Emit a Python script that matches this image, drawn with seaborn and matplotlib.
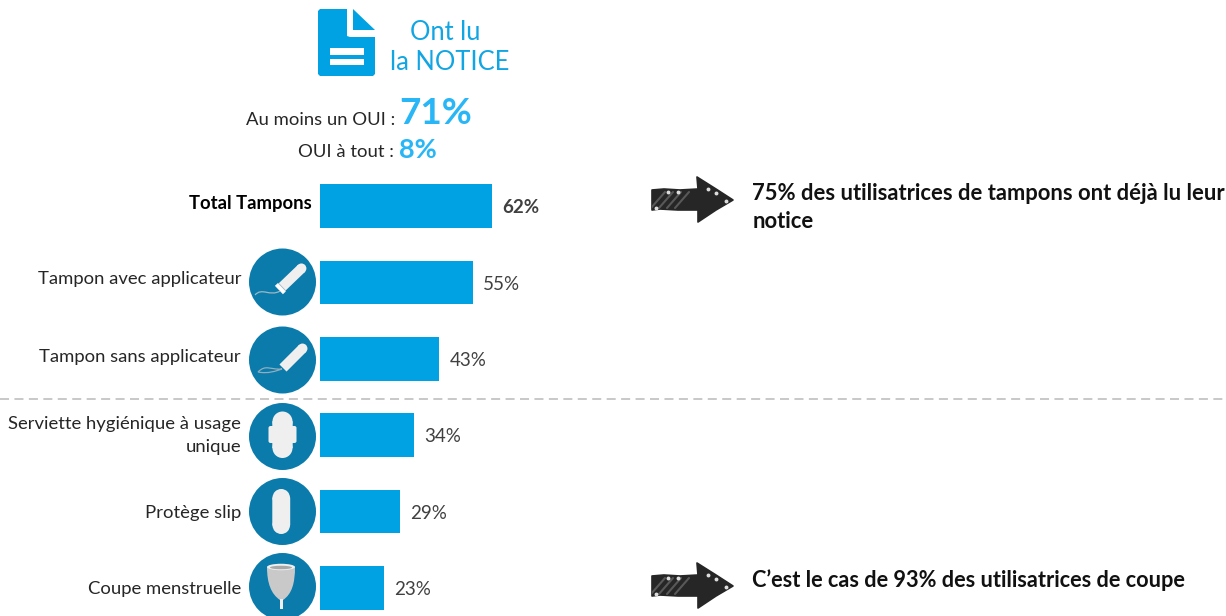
import numpy as np
import pandas as pd
import matplotlib
matplotlib.use("Agg")
import matplotlib.pyplot as plt
import seaborn as sns
from matplotlib.patches import Circle, Polygon, FancyBboxPatch, PathPatch, Rectangle, Ellipse
from matplotlib.path import Path
from matplotlib.transforms import Affine2D, ScaledTranslation

categories = ["Total Tampons", "Tampon avec applicateur", "Tampon sans applicateur",
              "Serviette hygiénique à usage\nunique", "Protège slip", "Coupe menstruelle"]
values = [62, 55, 43, 34, 29, 23]
title_lines = "Ont lu\nla NOTICE"
kpi_labels = ["Au moins un OUI :", "OUI à tout :"]
kpi_values = ["71%", "8%"]
note_top = "75% des utilisatrices de tampons ont déjà lu leur\nnotice"
note_bottom = "C’est le cas de 93% des utilisatrices de coupe"

W, H = 1226, 616
BAR = "#00A2E3"
DISC = "#0A7BAB"
SOFT = "#EFEFEF"
TXT = "#404040"
FONT = "Lato"

sns.set_theme(style="white")
plt.rcParams["font.family"] = [FONT, "DejaVu Sans"]
fig = plt.figure(figsize=(W / 100, H / 100), dpi=100, facecolor="white")

# overlay in pixel units for the decorations
ov = fig.add_axes([0, 0, 1, 1])
ov.set_xlim(0, W); ov.set_ylim(H, 0); ov.axis("off")

# bar axes
top_px, step = 167.8, 76.4
left_px, width_px = 319.5, 279.0
ax = fig.add_axes([left_px / W, 0, width_px / W, (H - top_px) / H])
ax.patch.set_alpha(0)
df = pd.DataFrame({"cat": categories, "val": values})
sns.barplot(data=df, y="cat", x="val", color=BAR, saturation=1, width=0.57, ax=ax, linewidth=0)
ax.set_xlim(0, 100)
ax.set_ylim((H - top_px) / step - 0.5, -0.5)
ax.set_xlabel(""); ax.set_ylabel(""); ax.set_xticks([])
sns.despine(ax=ax, left=True, bottom=True)
ax.tick_params(axis="y", length=0, pad=5.4)
label_dy = [4, 5, 3, 5, 0.5, 0.5]
for i, lab in enumerate(ax.get_yticklabels()):
    lab.set_fontsize(13.3)
    lab.set_color("#262626" if i else "black")
    lab.set_fontweight("bold" if i == 0 else "normal")
    lab.set_linespacing(1.55)
    dx = 0 if i == 0 else -71 / 100
    lab.set_transform(lab.get_transform() + ScaledTranslation(dx, label_dy[i] / 100, fig.dpi_scale_trans))
labels = ax.bar_label(ax.containers[0], labels=[f"{v}%" for v in values], padding=7.2,
                      fontsize=13.5, color=TXT)
labels[0].set_fontweight("bold")
for lab in labels:
    lab.xyann = (lab.xyann[0], -1.2)

# document icon
ov.add_patch(Polygon([(318, 11), (320, 9), (347, 9), (347, 36), (350, 37), (375, 37), (375, 74), (373, 76),
                      (320, 76), (318, 74)], closed=True, fc=BAR, ec="none"))
ov.add_patch(Polygon([(353, 9), (375, 30), (353, 30)], closed=True, fc=BAR, ec="none"))
ov.add_patch(Rectangle((330, 48), 34, 7, fc="white", ec="none"))
ov.add_patch(Rectangle((330, 59), 34, 6, fc="white", ec="none"))

title_a, title_b = title_lines.split("\n")
ov.text(445.5, 32.5, title_a, color="#12A5E3", fontsize=18.4, ha="center", va="center")
ov.text(449.5, 62, title_b, color="#12A5E3", fontsize=18.4, ha="center", va="center")

ov.text(395, 120, kpi_labels[0], color="#262626", fontsize=13.3, ha="right", va="center")
ov.text(399, 114, kpi_values[0], color="#29B6F6", fontsize=26.5, fontweight="bold", ha="left", va="center")
ov.text(394, 152, kpi_labels[1], color="#262626", fontsize=13.3, ha="right", va="center")
ov.text(398.5, 150, kpi_values[1], color="#29B6F6", fontsize=19.5, fontweight="bold", ha="left", va="center")

# separator
ov.plot([0, W], [399, 399], color="#C4C4C4", lw=1.3, ls=(0, (5, 3)))

# icon discs
disc_y = [282, 360, 436.5, 511.5, 586.5]
for y in disc_y:
    ov.add_patch(Circle((282.5, y), 33.5, fc=DISC, ec="none"))

def tampon(x0, y0, x1, y1, w, ferrule):
    ang = np.degrees(np.arctan2(y1 - y0, x1 - x0))
    L = np.hypot(x1 - x0, y1 - y0)
    tr = Affine2D().rotate_deg(ang).translate(x0, y0) + ov.transData
    ov.add_patch(Rectangle((0, -w / 2), L - w / 2, w, fc=SOFT, ec="none", transform=tr))
    ov.add_patch(Ellipse((L - w / 2, 0), w, w, fc=SOFT, ec="none", transform=tr))
    if ferrule:
        ov.add_patch(Rectangle((-1.5, -w / 2 - 0.8), 4, w + 1.6, fc="#FFFFFF", ec="none", transform=tr))
        ov.add_patch(Rectangle((2.5, -w / 2), 0.8, w, fc="#9DB8C6", ec="none", transform=tr))

def capsule(x0, x1, y0, y1, fc=SOFT):
    w = x1 - x0
    ov.add_patch(Rectangle((x0, y0 + w / 2), w, y1 - y0 - w, fc=fc, ec=fc, lw=0.3, snap=False))
    ov.add_patch(Ellipse(((x0 + x1) / 2, y0 + w / 2), w, w, fc=fc, ec="none"))
    ov.add_patch(Ellipse(((x0 + x1) / 2, y1 - w / 2), w, w, fc=fc, ec="none"))

tampon(280, 289, 305, 265, 10, True)
ov.add_patch(PathPatch(Path([(280, 291), (270, 297), (262, 287), (255, 295)],
                            [Path.MOVETO, Path.CURVE4, Path.CURVE4, Path.CURVE4]),
                       fc="none", ec="#9DB8C6", lw=0.9))
tampon(283, 368, 306, 345, 10, False)
ov.add_patch(PathPatch(Path([(282, 369), (270, 370), (266, 364), (258, 372), (268, 374), (276, 371), (282, 369)],
                            [Path.MOVETO, Path.CURVE4, Path.CURVE4, Path.CURVE4, Path.CURVE4, Path.CURVE4, Path.CURVE4]),
                       fc="none", ec="#8FAEBE", lw=0.9))

# pad
capsule(272.5, 292.5, 411.5, 458)
ov.add_patch(FancyBboxPatch((268.5, 426), 28, 17, boxstyle="round,pad=0,rounding_size=2", fc=SOFT, ec="none"))
# liner
capsule(272.5, 290, 489, 534)
# cup
cup = Path([(267, 567), (267, 583), (271, 594), (280, 600), (283, 600), (292, 594), (295, 583), (295, 567), (267, 567)],
           [Path.MOVETO, Path.CURVE4, Path.CURVE4, Path.CURVE4, Path.LINETO, Path.CURVE4, Path.CURVE4, Path.CURVE4, Path.CLOSEPOLY])
ov.add_patch(PathPatch(cup, fc="#C9C9C9", ec="none"))
ov.add_patch(Ellipse((281, 567), 28, 6.5, fc=SOFT, ec="none"))
ov.add_patch(Ellipse((281, 567.5), 22, 3.5, fc="#A8A8A8", ec="none"))
ov.add_patch(Rectangle((280.3, 599), 2.4, 10, fc=SOFT, ec="none"))

# sketchy arrows
def arrow(cy):
    pts = [(652, cy - 10), (664, cy - 11), (680, cy - 10), (698, cy - 11), (697, cy - 23), (716, cy - 11), (733, cy),
           (716, cy + 10), (698, cy + 22), (698, cy + 10), (678, cy + 10), (660, cy + 9), (652, cy + 10)]
    ov.add_patch(Polygon(pts, closed=True, fc="#262626", ec="#262626", lw=1.2, joinstyle="round"))
    clip = Polygon(pts, closed=True, transform=ov.transData)
    for x in (658, 666, 674, 682):
        ln, = ov.plot([x - 7, x + 7], [cy + 8, cy - 8], color="#6E6E6E", lw=1.5, alpha=0.7)
        ln.set_clip_path(clip)
    ov.plot([668, 678, 708, 716], [cy - 8, cy - 8, cy - 11, cy - 7], ls="none", marker="o", ms=1.8, color="#DDDDDD")
    ov.plot([726, 656], [cy + 1, cy + 8], ls="none", marker="o", ms=1.8, color="#DDDDDD")

arrow(200)
arrow(586)

note_a, note_b = note_top.split("\n")
ov.text(752.5, 193.5, note_a, fontsize=15.8, fontweight="bold", color="#111111", va="center", ha="left")
ov.text(752.5, 221.5, note_b, fontsize=15.8, fontweight="bold", color="#111111", va="center", ha="left")
ov.text(752.5, 580.5, note_bottom, fontsize=15.65, fontweight="bold", color="#111111", va="center", ha="left")

fig.savefig("out.png", dpi=100)
